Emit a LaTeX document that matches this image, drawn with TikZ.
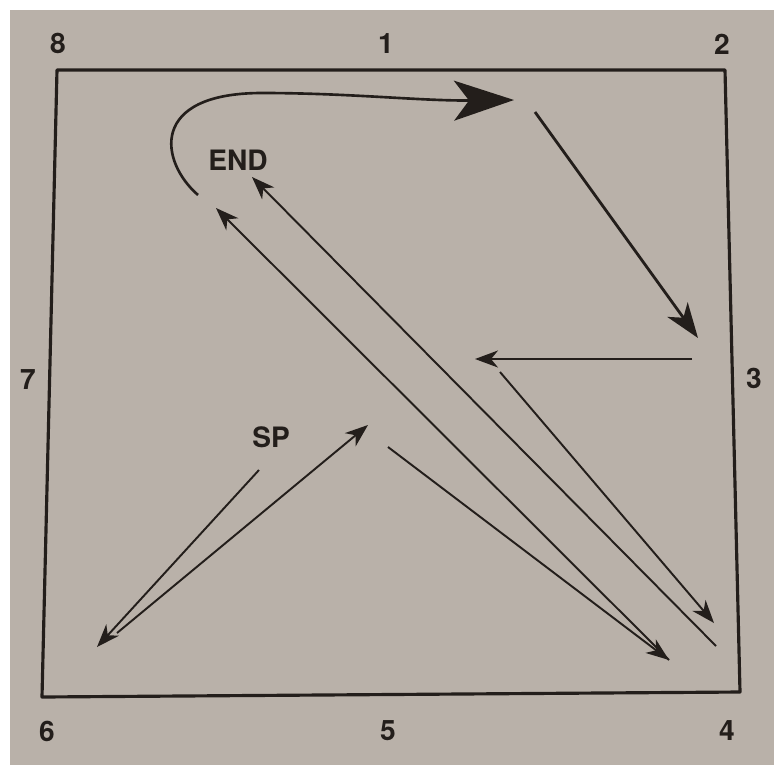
\documentclass[tikz,border=0pt]{standalone}
\usepackage{fontspec}
\setsansfont{TeX Gyre Heros}
\usetikzlibrary{arrows.meta}
\definecolor{paperBg}{HTML}{B9B1A9}
\definecolor{inkDark}{HTML}{231E1B}

\begin{document}
\begin{tikzpicture}[x=0.02cm,y=-0.02cm,
        every node/.style={font=\sffamily\bfseries\fontsize{16pt}{18pt}\selectfont,
                           text=inkDark,inner sep=0pt},
        leg/.style={draw=inkDark,line width=1.1pt,
                    -{Stealth[length=4.6mm,width=3.4mm,inset=1.4mm]}}]
        \useasboundingbox (0,0) rectangle (774,765);
        \fill[white] (0,0) rectangle (774,765);
        \fill[paperBg] (10,10) rectangle (774,765);
        % field outline
        \draw[inkDark,line width=1.8pt,line join=round]
              (57,70) -- (725,70) -- (740,692) -- (42,697) -- cycle;
        % corner and side numbers
        \node (n1) at (386,44) {1};
        \node (n2) at (722,44) {2};
        \node (n3) at (754,378) {3};
        \node (n4) at (727,731) {4};
        \node (n5) at (388,731) {5};
        \node (n6) at (47,731) {6};
        \node (n7) at (28,380) {7};
        \node (n8) at (58,43) {8};
        \node (spLabel) at (271,437) {SP};
        \node (endLabel) at (238,160) {END};
        % route points
        \coordinate (spStart) at (259,470);
        \coordinate (legA) at (97,647);
        \coordinate (legAback) at (117,633);
        \coordinate (legB) at (368,425);
        \coordinate (legBback) at (388,447);
        \coordinate (legC) at (669,660);
        \coordinate (legD) at (216,208);
        \coordinate (curveStart) at (198,195);
        \coordinate (legE) at (514,100);
        \coordinate (legEback) at (535,112);
        \coordinate (legF) at (698,338);
        \coordinate (legFback) at (692,359);
        \coordinate (legG) at (475,359);
        \coordinate (legGback) at (500,372);
        \coordinate (legH) at (714,623);
        \coordinate (legHback) at (716,646);
        \coordinate (legEnd) at (252,177);
        % the route
        \draw[leg] (spStart) -- (legA);
        \draw[leg] (legAback) -- (legB);
        \draw[leg] (legBback) -- (legC);
        \draw[leg] (legC) -- (legD);
        \draw[draw=inkDark,line width=1.5pt,
              -{Stealth[length=12mm,width=8mm,inset=3mm]}]
              (curveStart) .. controls (160,162) and (148,93) .. (262,93)
              .. controls (350,93) and (420,101) .. (legE);
        \draw[draw=inkDark,line width=1.6pt,
              -{Stealth[length=7mm,width=5mm,inset=2mm]}] (legEback) -- (legF);
        \draw[leg] (legFback) -- (legG);
        \draw[leg] (legGback) -- (legH);
        \draw[leg] (legHback) -- (legEnd);
      \end{tikzpicture}
\end{document}
